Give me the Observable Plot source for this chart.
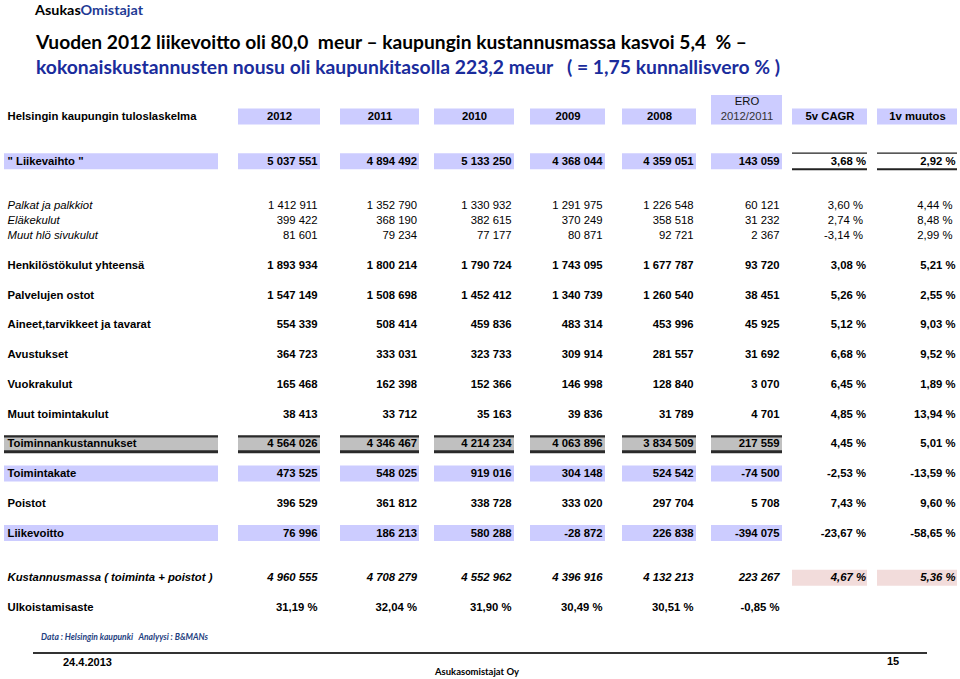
<!DOCTYPE html>
<html>
<head>
<meta charset="utf-8">
<script src="https://cdn.jsdelivr.net/npm/d3@7"></script>
<script src="https://cdn.jsdelivr.net/npm/@observablehq/plot@0.6"></script>
<style>
  html, body { margin: 0; padding: 0; background: #fff; }
  body { width: 960px; height: 679px; overflow: hidden; }
  #head { position: relative; height: 95px; }
  #foot { position: relative; height: 54px; }
  .abs { position: absolute; white-space: pre; line-height: 1; transform-origin: 0 0; }
  .cal { font-family: Lato, "Open Sans", sans-serif; font-weight: bold; }
  .ari { font-family: "Liberation Sans", Arial, sans-serif; font-weight: bold; }
  #chart svg { display: block; }
</style>
</head>
<body>
<div id="head">
  <div id="brand" class="abs cal" style="left:35px; top:4.8px; font-size:12.5px; color:#000;">Asukas<span style="color:#1f3b95">Omistajat</span></div>
  <div id="t1" class="abs cal" style="left:36px; top:33px; font-size:18px; color:#000;">Vuoden 2012 liikevoitto oli 80,0  meur – kaupungin kustannusmassa kasvoi 5,4  % –</div>
  <div id="t2" class="abs cal" style="left:36px; top:58px; font-size:18px; color:#1a2c9c;">kokonaiskustannusten nousu oli kaupunkitasolla 223,2 meur   ( = 1,75 kunnallisvero % )</div>
</div>
<div id="chart"></div>
<div id="foot">
  <div id="src" class="abs cal" style="left:41px; top:7px; font-size:9px; font-style:italic; color:#1f3f7f;">Data : Helsingin kaupunki   Analyysi : B&amp;MANs</div>
  <div style="position:absolute; left:33px; width:894px; top:26.8px; height:2.5px; background:#333;"></div>
  <div class="abs ari" style="left:63px; top:31.7px; font-size:11px; color:#000;">24.4.2013</div>
  <div class="abs ari" style="left:887px; top:31.3px; font-size:11px; color:#000;">15</div>
  <div id="oy" class="abs cal" style="left:435px; top:40.7px; font-size:10px; color:#000;">Asukasomistajat Oy</div>
</div>
<script>
// ---------------- DATA ----------------
const headerLabel = "Helsingin kaupungin tuloslaskelma";
const columns = ["2012", "2011", "2010", "2009", "2008", "ERO", "5v CAGR", "1v muutos"];
const eroSubLabel = "2012/2011";

const rowLabels = [
  "\" Liikevaihto \"",
  "Palkat ja palkkiot",
  "Eläkekulut",
  "Muut hlö sivukulut",
  "Henkilöstökulut yhteensä",
  "Palvelujen ostot",
  "Aineet,tarvikkeet ja tavarat",
  "Avustukset",
  "Vuokrakulut",
  "Muut toimintakulut",
  "Toiminnankustannukset",
  "Toimintakate",
  "Poistot",
  "Liikevoitto",
  "Kustannusmassa ( toiminta + poistot )",
  "Ulkoistamisaste"
];
// unit of each row: "t" = thousand euro, "%" = percent
const rowUnits = ["t","t","t","t","t","t","t","t","t","t","t","t","t","t","t","%"];

const v2012 = [5037551, 1412911, 399422, 81601, 1893934, 1547149, 554339, 364723, 165468, 38413, 4564026, 473525, 396529, 76996, 4960555, 31.19];
const v2011 = [4894492, 1352790, 368190, 79234, 1800214, 1508698, 508414, 333031, 162398, 33712, 4346467, 548025, 361812, 186213, 4708279, 32.04];
const v2010 = [5133250, 1330932, 382615, 77177, 1790724, 1452412, 459836, 323733, 152366, 35163, 4214234, 919016, 338728, 580288, 4552962, 31.90];
const v2009 = [4368044, 1291975, 370249, 80871, 1743095, 1340739, 483314, 309914, 146998, 39836, 4063896, 304148, 333020, -28872, 4396916, 30.49];
const v2008 = [4359051, 1226548, 358518, 92721, 1677787, 1260540, 453996, 281557, 128840, 31789, 3834509, 524542, 297704, 226838, 4132213, 30.51];
const vEro  = [143059, 60121, 31232, 2367, 93720, 38451, 45925, 31692, 3070, 4701, 217559, -74500, 5708, -394075, 223267, -0.85];
const vCagr = [3.68, 3.60, 2.74, -3.14, 3.08, 5.26, 5.12, 6.68, 6.45, 4.85, 4.45, -2.53, 7.43, -23.67, 4.67, null];
const v1v   = [2.92, 4.44, 8.48, 2.99, 5.21, 2.55, 9.03, 9.52, 1.89, 13.94, 5.01, -13.59, 9.60, -58.65, 5.36, null];

// ---------------- LAYOUT / STYLE ----------------
const headerSlot = 0;
const rowSlots = [1.5, 3, 3.5, 4, 5, 6, 7, 8, 9, 10, 11, 12, 13, 14, 15.5, 16.5];
const rowKinds = ["liike","sub","sub","sub","bold","bold","bold","bold","bold","bold","total","band","bold","band","cost","bold"];
const labelX0 = 4, labelX1 = 218, labelTextX = 7;
const colX0 = [238, 340, 434, 530, 622, 711, 792, 877];
const colX1 = [320, 419, 514, 605, 696, 782, 867, 957];
const colPad = [3, 2.5, 3, 3, 3, 3, 1.5, 2];
const subPctExtraPad = 3;
const FS = 11.3;
const LAV = "#ccccff", GRAY = "#c0c0c0", PINK = "#f2dcdb", INK = "#000";
const FONT = "Liberation Sans, Arial, Helvetica, sans-serif";

// ---------------- BUILD ----------------
const loc = d3.formatLocale({decimal: ",", thousands: " ", grouping: [3], currency: ["", " €"], minus: "-"});
const fmtInt = loc.format(",d");
const fmtDec = loc.format(".2f");
const fmtPct = v => fmtDec(v) + " %";

const values = [v2012, v2011, v2010, v2009, v2008, vEro, vCagr, v1v];

const cells = [];
rowLabels.forEach((lab, i) => {
  values.forEach((arr, j) => {
    const v = arr[i];
    if (v == null) return;
    const pct = j >= 6 || rowUnits[i] === "%";
    const extra = (rowKinds[i] === "sub" && j >= 6) ? subPctExtraPad : 0;
    cells.push({row: i, col: j, slot: rowSlots[i], kind: rowKinds[i], text: pct ? fmtPct(v) : fmtInt(v), x: colX1[j] - colPad[j] - extra});
  });
});
const labels = rowLabels.map((lab, i) => ({label: lab, slot: rowSlots[i], kind: rowKinds[i], x: labelTextX}));

// background bands
const bands = [];
columns.forEach((c, j) => {
  if (c !== "ERO") bands.push({slot: headerSlot, x0: colX0[j], x1: colX1[j], fill: LAV});
});
rowKinds.forEach((k, i) => {
  const s = rowSlots[i];
  if (k === "liike" || k === "band" || k === "total") {
    const f = k === "total" ? GRAY : LAV;
    bands.push({slot: s, x0: labelX0, x1: labelX1, fill: f});
    for (let j = 0; j <= 5; j++) bands.push({slot: s, x0: colX0[j], x1: colX1[j], fill: f});
  }
  if (k === "cost") {
    for (let j = 6; j <= 7; j++) bands.push({slot: s, x0: colX0[j], x1: colX1[j], fill: PINK});
  }
});
const eroBand = [{slot: headerSlot, x0: colX0[5], x1: colX1[5]}];

// border lines
const totalBorders = [];
const liikeBorders = [];
rowKinds.forEach((k, i) => {
  const s = rowSlots[i];
  if (k === "total") {
    totalBorders.push({slot: s, x0: labelX0, x1: labelX1});
    for (let j = 0; j <= 5; j++) totalBorders.push({slot: s, x0: colX0[j], x1: colX1[j]});
  }
  if (k === "liike") {
    for (let j = 6; j <= 7; j++) liikeBorders.push({slot: s, x0: colX0[j], x1: colX1[j]});
  }
});

const headers = columns.map((c, j) => ({text: c, slot: headerSlot, x: (colX0[j] + colX1[j]) / 2}));

const isBold = k => k !== "sub" && k !== "cost";

const chart = Plot.plot({
  width: 960,
  height: 530,
  margin: 0,
  x: {domain: [0, 960], range: [0, 960], axis: null},
  y: {domain: [0, 16.5], range: [21, 512], axis: null},
  color: {type: "identity"},
  style: {background: "#fff"},
  marks: [
    Plot.ruleY(bands, {y: "slot", x1: "x0", x2: "x1", stroke: "fill", strokeWidth: 16}),
    Plot.ruleY(eroBand, {y: "slot", x1: "x0", x2: "x1", stroke: LAV, strokeWidth: 30, dy: -7}),
    Plot.ruleY(bands.filter(d => d.fill === GRAY), {y: "slot", x1: "x0", x2: "x1", stroke: GRAY, strokeWidth: 15}),
    Plot.ruleY(totalBorders, {y: "slot", x1: "x0", x2: "x1", stroke: "#2a2a2a", strokeWidth: 2.3, dy: -7.5}),
    Plot.ruleY(totalBorders, {y: "slot", x1: "x0", x2: "x1", stroke: "#2a2a2a", strokeWidth: 3, dy: 7.8}),
    Plot.ruleY(liikeBorders, {y: "slot", x1: "x0", x2: "x1", stroke: "#222", strokeWidth: 1.3, dy: -8}),
    Plot.ruleY(liikeBorders, {y: "slot", x1: "x0", x2: "x1", stroke: "#222", strokeWidth: 2, dy: 8}),

    // header
    Plot.text([headerLabel], {x: labelTextX, y: headerSlot, text: d => d, textAnchor: "start", fontWeight: "bold", fontSize: FS, fontFamily: FONT, fill: INK}),
    Plot.text(headers.filter(h => h.text !== "ERO"), {x: "x", y: "slot", text: "text", textAnchor: "middle", fontWeight: "bold", fontSize: FS, fontFamily: FONT, fill: INK}),
    Plot.text(headers.filter(h => h.text === "ERO"), {x: "x", y: "slot", text: "text", textAnchor: "middle", fontSize: FS, fontFamily: FONT, fill: "#111", dy: -15}),
    Plot.text(headers.filter(h => h.text === "ERO"), {x: "x", y: "slot", text: () => eroSubLabel, textAnchor: "middle", fontSize: FS, fontFamily: FONT, fill: "#333"}),

    // row labels
    Plot.text(labels.filter(d => isBold(d.kind)), {x: "x", y: "slot", text: "label", textAnchor: "start", fontWeight: "bold", fontSize: FS, fontFamily: FONT, fill: INK}),
    Plot.text(labels.filter(d => d.kind === "sub"), {x: "x", y: "slot", text: "label", textAnchor: "start", fontStyle: "italic", fontSize: FS, fontFamily: FONT, fill: INK}),
    Plot.text(labels.filter(d => d.kind === "cost"), {x: "x", y: "slot", text: "label", textAnchor: "start", fontStyle: "italic", fontWeight: "bold", fontSize: FS, fontFamily: FONT, fill: INK}),

    // values
    Plot.text(cells.filter(d => isBold(d.kind)), {x: "x", y: "slot", text: "text", textAnchor: "end", fontWeight: "bold", fontSize: FS, fontFamily: FONT, fill: INK}),
    Plot.text(cells.filter(d => d.kind === "sub"), {x: "x", y: "slot", text: "text", textAnchor: "end", fontSize: FS, fontFamily: FONT, fill: INK}),
    Plot.text(cells.filter(d => d.kind === "cost"), {x: "x", y: "slot", text: "text", textAnchor: "end", fontStyle: "italic", fontWeight: "bold", fontSize: FS, fontFamily: FONT, fill: INK})
  ]
});
document.getElementById("chart").appendChild(chart);

// fit Calibri-substitute text widths to the reference
function fitWidth(id, target) {
  const el = document.getElementById(id);
  const w = el.getBoundingClientRect().width;
  if (w > 0) el.style.transform = `scaleX(${target / w})`;
}
fitWidth("brand", 108);
fitWidth("t1", 711);
fitWidth("t2", 744);
fitWidth("src", 167);
fitWidth("oy", 84);
</script>
</body>
</html>
